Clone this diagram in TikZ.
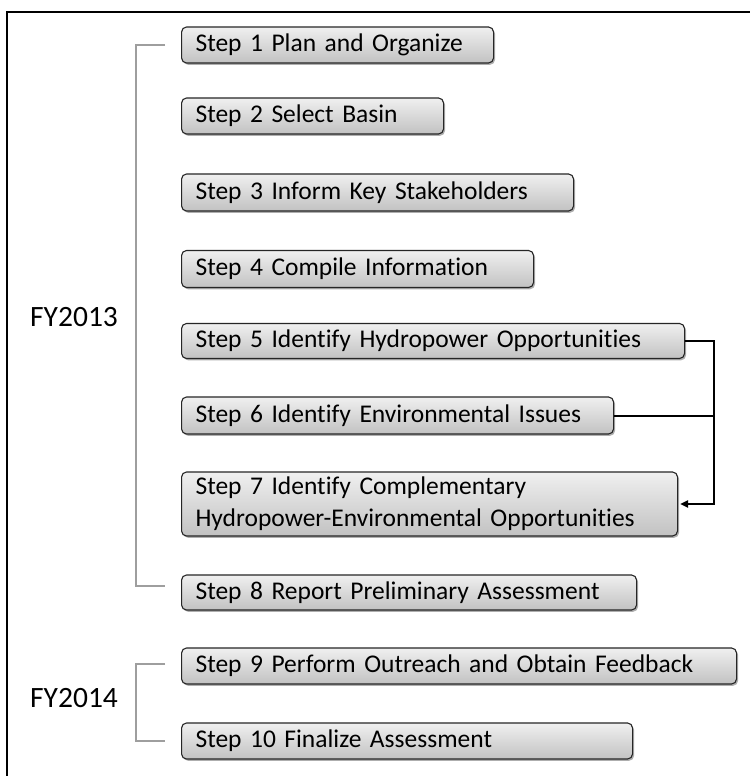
\documentclass[tikz,border=0pt]{standalone}
\usepackage{fontspec}
\setmainfont[Ligatures=NoCommon]{Carlito}
\usetikzlibrary{shadows,arrows.meta,calc}
\begin{document}
\begin{tikzpicture}[x=1pt,y=-1pt,
  stepbox/.style={draw=black!85, line width=1.1pt, rounded corners=5pt, anchor=west,
    top color=white!94!black, bottom color=white!76!black,
    drop shadow={shadow xshift=1.5pt, shadow yshift=-1.8pt, opacity=0.45, fill=black!70},
    inner xsep=14pt, inner ysep=0pt, align=left, font=\fontsize{25.5}{32}\selectfont},
  yearlbl/.style={font=\fontsize{29.5}{34}\selectfont, anchor=west, inner sep=0pt},
  bracket/.style={draw=black!38, line width=1.3pt},
  link/.style={draw=black, line width=2pt}
]
\useasboundingbox (0,0) rectangle (750,776);
\fill[white] (0,0) rectangle (750,776);
% frame (top and left edges)
\draw[line width=2.2pt] (7,776) -- (7,12) -- (750,12);

\node[stepbox, text width=284pt, minimum height=36pt] (s1) at (181,45) {Step 1 Plan and Organize};
\node[stepbox, text width=234pt, minimum height=36pt] (s2) at (181,116) {Step 2 Select Basin};
\node[stepbox, text width=364pt, minimum height=37pt] (s3) at (181,192.5) {Step 3 Inform Key Stakeholders};
\node[stepbox, text width=324pt, minimum height=37pt] (s4) at (181,269) {Step 4 Compile Information};
\node[stepbox, text width=475pt, minimum height=35pt] (s5) at (181,341) {Step 5 Identify Hydropower Opportunities};
\node[stepbox, text width=404pt, minimum height=37pt] (s6) at (181,415.5) {Step 6 Identify Environmental Issues};
\node[stepbox, text width=468pt, minimum height=64pt] (s7) at (181,504) {Step 7 Identify Complementary\\Hydropower-Environmental Opportunities};
\node[stepbox, text width=427pt, minimum height=35pt] (s8) at (181,592.5) {Step 8 Report Preliminary Assessment};
\node[stepbox, text width=527pt, minimum height=36pt] (s9) at (181,666) {Step 9 Perform Outreach and Obtain Feedback};
\node[stepbox, text width=423pt, minimum height=36pt] (s10) at (181,741) {Step 10 Finalize Assessment};

\node[yearlbl] (fy13) at (30,317) {FY2013};
\node[yearlbl] (fy14) at (30,698) {FY2014};

% brackets
\coordinate (b1t) at (136,45);
\coordinate (b1b) at (136,586);
\coordinate (b2t) at (136,664);
\coordinate (b2b) at (136,741);
\draw[bracket] (165,45) -- (b1t) -- (b1b) -- (165,586);
\draw[bracket] (165,664) -- (b2t) -- (b2b) -- (165,741);

% connector
\coordinate (j) at (714,341);
\draw[link, -{Triangle[length=8pt,width=7pt]}, shorten >=2pt] (s5.east) -- (j) |- (s7.east);
\draw[link] (s6.east) -| (j);
\end{tikzpicture}
\end{document}
